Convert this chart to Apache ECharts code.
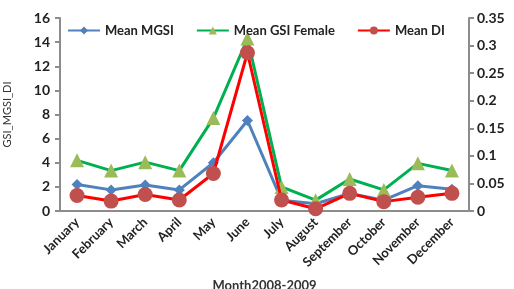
<!DOCTYPE html>
<html>
<head>
    <meta charset="UTF-8">
    <title>GSI MGSI DI</title>
    <script src="https://cdn.jsdelivr.net/npm/echarts@6/dist/echarts.min.js"></script>
    <style>
        html, body { margin: 0; padding: 0; background: #fff; }
        #chart { width: 514px; height: 289px; }
    </style>
</head>
<body>
<div id="chart"></div>
<script>
    // data
    var months = ['January', 'February', 'March', 'April', 'May', 'June',
        'July', 'August', 'September', 'October', 'November', 'December'];
    var meanMGSI = [2.2, 1.75, 2.15, 1.75, 4.0, 7.5, 0.9, 0.6, 1.45, 0.9, 2.1, 1.8];
    var meanGSIFemale = [4.2, 3.35, 4.05, 3.35, 7.7, 14.3, 2.0, 0.9, 2.65, 1.75, 3.95, 3.35];
    var meanDI = [0.028, 0.018, 0.030, 0.020, 0.068, 0.287, 0.020, 0.004, 0.032, 0.017, 0.025, 0.032];
    var leftTicks = [0, 16, 2];
    var rightTicks = [0, 0.35, 0.05];

    var font = 'Lato';
    var axisCol = '#8c8c8c';

    var chart = echarts.init(document.getElementById('chart'));
    var option = {
        animation: false,
        backgroundColor: '#fff',
        textStyle: { fontFamily: font },
        legend: {
            top: 19,
            left: 62,
            itemGap: 22,
            itemWidth: 32,
            itemHeight: 10,
            textStyle: { fontFamily: font, fontWeight: 'bold', fontSize: 13, color: '#222' },
            data: ['Mean MGSI', 'Mean GSI Female', 'Mean DI']
        },
        grid: { left: 60, right: 45, top: 18, bottom: 78, outerBoundsMode: 'none', containLabel: false },
        xAxis: {
            type: 'category',
            data: months,
            boundaryGap: true,
            name: 'Month2008-2009',
            nameLocation: 'middle',
            nameGap: 68,
            nameMoveOverlap: false,
            nameTextStyle: { fontFamily: font, fontSize: 13, fontWeight: 'bold', color: '#333' },
            axisLine: { lineStyle: { color: axisCol, width: 2 } },
            axisTick: { show: false },
            axisLabel: { rotate: 45, fontFamily: font, fontWeight: 'bold', fontSize: 13, color: '#222', margin: 9, interval: 0 }
        },
        yAxis: [{
            type: 'value',
            min: leftTicks[0], max: leftTicks[1], interval: leftTicks[2],
            name: 'GSI_MGSI_DI',
            nameLocation: 'middle',
            nameRotate: 90,
            nameGap: 47,
            nameMoveOverlap: false,
            nameTextStyle: { fontFamily: font, fontSize: 11, color: '#333' },
            axisLine: { show: true, lineStyle: { color: axisCol, width: 2 } },
            axisTick: { show: true, length: 5, lineStyle: { color: axisCol, width: 2 } },
            splitLine: { show: false },
            axisLabel: { fontFamily: font, fontWeight: 'bold', fontSize: 14, color: '#222', margin: 10 }
        }, {
            type: 'value',
            min: rightTicks[0], max: rightTicks[1], interval: rightTicks[2],
            position: 'right',
            axisLine: { show: true, lineStyle: { color: axisCol, width: 2 } },
            axisTick: { show: true, length: 5, lineStyle: { color: axisCol, width: 2 } },
            splitLine: { show: false },
            axisLabel: { fontFamily: font, fontWeight: 'bold', fontSize: 14, color: '#222', margin: 8 }
        }],
        series: [{
            name: 'Mean MGSI',
            type: 'line',
            data: meanMGSI,
            symbol: 'diamond',
            symbolSize: 11,
            lineStyle: { color: '#4f81bd', width: 3 },
            itemStyle: { color: '#4f81bd' },
            z: 2
        }, {
            name: 'Mean GSI Female',
            type: 'line',
            data: meanGSIFemale,
            symbol: 'triangle',
            symbolSize: 14,
            lineStyle: { color: '#00b050', width: 3 },
            itemStyle: { color: '#9bbb59' },
            z: 3
        }, {
            name: 'Mean DI',
            type: 'line',
            yAxisIndex: 1,
            data: meanDI,
            symbol: 'circle',
            symbolSize: 15,
            lineStyle: { color: '#ff0000', width: 3 },
            itemStyle: { color: '#c0504d' },
            z: 4
        }]
    };
    chart.setOption(option);
</script>
</body>
</html>
